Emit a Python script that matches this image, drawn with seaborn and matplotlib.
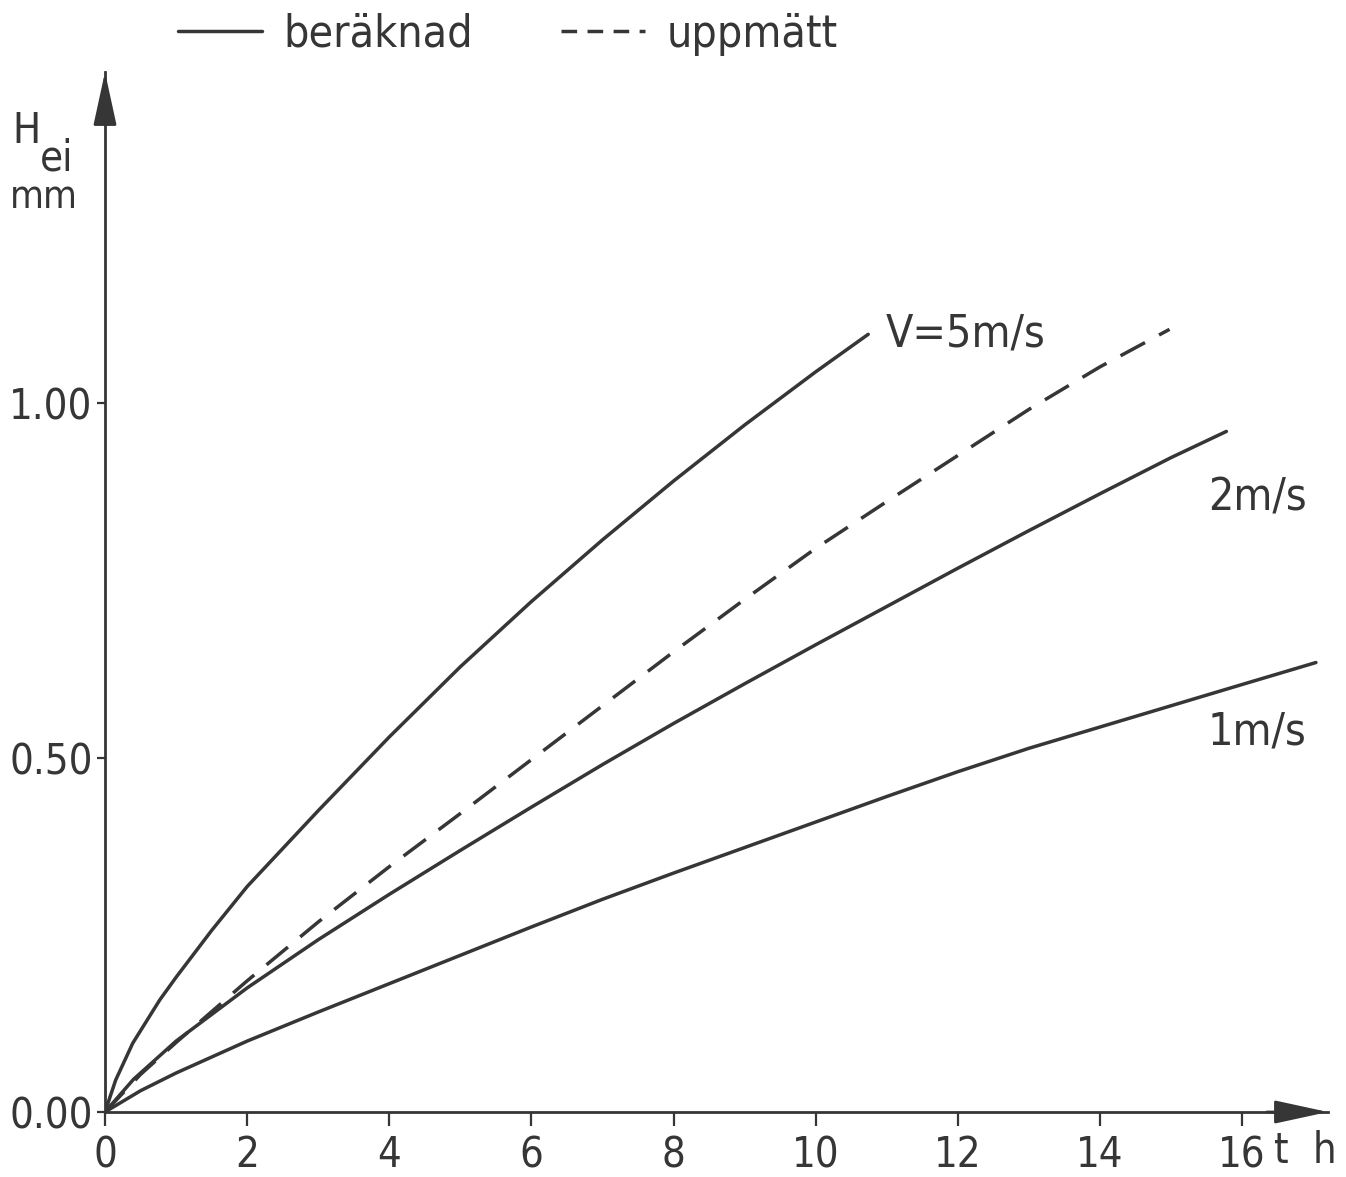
import pandas as pd
import seaborn as sns
import matplotlib.pyplot as plt
from matplotlib.lines import Line2D

sns.set_theme(style="ticks")
plt.rcParams['font.family'] = ['DejaVu Sans']
plt.rcParams['font.stretch'] = 'condensed'

INK = '#363636'

# values: time t [h] and H_ei [mm]
t_5ms = [0, 0.15, 0.39, 0.77, 1, 1.5, 2, 3, 4, 5, 6, 7, 8, 9, 10, 10.74]
h_5ms = [0, 0.045, 0.097, 0.158, 0.19, 0.256, 0.318, 0.425, 0.529, 0.628, 0.72, 0.807, 0.89, 0.969, 1.044, 1.097]

t_meas = [0, 0.5, 1, 2, 3, 4, 5, 6, 7, 8, 9, 10, 11, 12, 13, 14, 14.98]
h_meas = [0, 0.053, 0.098, 0.185, 0.268, 0.346, 0.421, 0.497, 0.573, 0.649, 0.723, 0.795, 0.861, 0.926, 0.991, 1.051, 1.104]

t_2ms = [0, 0.4, 1, 2, 3, 4, 5, 6, 7, 8, 9, 10, 11, 12, 13, 14, 15, 15.78]
h_2ms = [0, 0.046, 0.1, 0.175, 0.243, 0.307, 0.369, 0.43, 0.49, 0.548, 0.604, 0.659, 0.713, 0.767, 0.82, 0.872, 0.923, 0.96]

t_1ms = [0, 0.5, 1, 2, 3, 4, 5, 6, 7, 8, 9, 10, 11, 12, 13, 14, 15, 16, 17.04]
h_1ms = [0, 0.03, 0.055, 0.1, 0.141, 0.181, 0.221, 0.261, 0.3, 0.337, 0.373, 0.409, 0.445, 0.48, 0.513, 0.543, 0.573, 0.603, 0.634]

x_ticks = [0, 2, 4, 6, 8, 10, 12, 14, 16]
y_ticks = [0.0, 0.5, 1.0]
y_tick_labels = ['0.00', '0.50', '1.00']
legend_labels = ['beräknad', 'uppmätt']

fig = plt.figure(figsize=(13.46, 11.77), dpi=100)
ax = fig.add_axes([105 / 1346, 65 / 1177, 1223 / 1346, 1040 / 1177])

dash = (0, (8, 4.6))
for t, h in [(t_5ms, h_5ms), (t_2ms, h_2ms), (t_1ms, h_1ms)]:
    sns.lineplot(x=t, y=h, ax=ax, color=INK, lw=2.5)
sns.lineplot(x=t_meas, y=h_meas, ax=ax, color=INK, lw=2.5, linestyle=dash)

ax.set_xlim(0, 17.21)
ax.set_ylim(0, 1.467)
ax.set_xticks(x_ticks)
ax.set_xticklabels([str(v) for v in x_ticks])
ax.set_yticks(y_ticks)
ax.set_yticklabels(y_tick_labels)
ax.set_xlabel('')
ax.set_ylabel('')

sns.despine(ax=ax)
for side in ['left', 'bottom']:
    ax.spines[side].set_linewidth(2)
    ax.spines[side].set_color(INK)
ax.tick_params(axis='x', direction='out', length=10, width=1.6, pad=6, labelsize=30, colors=INK)
ax.tick_params(axis='y', direction='out', length=6, width=1.6, pad=3, labelsize=30, colors=INK)

# arrow heads on the axes
head = dict(arrowstyle='-|>,head_length=2.3,head_width=0.5', mutation_scale=14.4,
            color=INK, lw=2, shrinkA=0, shrinkB=0)
ax.annotate('', xy=(1, 0), xytext=(0.95, 0), xycoords='axes fraction', arrowprops=head, annotation_clip=False)
ax.annotate('', xy=(0, 1), xytext=(0, 0.95), xycoords='axes fraction', arrowprops=head, annotation_clip=False)

# curve labels
ax.text(10.98, 1.080, 'V=5m/s', fontsize=32, color=INK, va='baseline')
ax.text(15.52, 0.848, '2m/s', fontsize=32, color=INK, va='baseline')
ax.text(15.52, 0.518, '1m/s', fontsize=32, color=INK, va='baseline')

# axis labels
ax.text(16.45, -0.072, 't', fontsize=30, color=INK, va='baseline', clip_on=False)
ax.text(17.0, -0.072, 'h', fontsize=30, color=INK, va='baseline', clip_on=False)
fig.text(12 / 1346, 1 - 143 / 1177, 'H', fontsize=30, color=INK, va='baseline')
fig.text(40 / 1346, 1 - 170 / 1177, 'ei', fontsize=30, color=INK, va='baseline')
fig.text(10 / 1346, 1 - 208 / 1177, 'mm', fontsize=28, color=INK, va='baseline')

handles = [Line2D([], [], color=INK, lw=2.5),
           Line2D([], [], color=INK, lw=2.5, linestyle=(0, (4.5, 3)))]
fig.legend(handles=handles, labels=legend_labels, loc='center left',
           bbox_to_anchor=(178 / 1346, 1 - 34 / 1177), ncol=2, frameon=False,
           fontsize=32, handlelength=1.89, handletextpad=0.47, columnspacing=2.0,
           borderpad=0, borderaxespad=0, labelcolor=INK)

fig.savefig('out.png', dpi=100, facecolor='white')
